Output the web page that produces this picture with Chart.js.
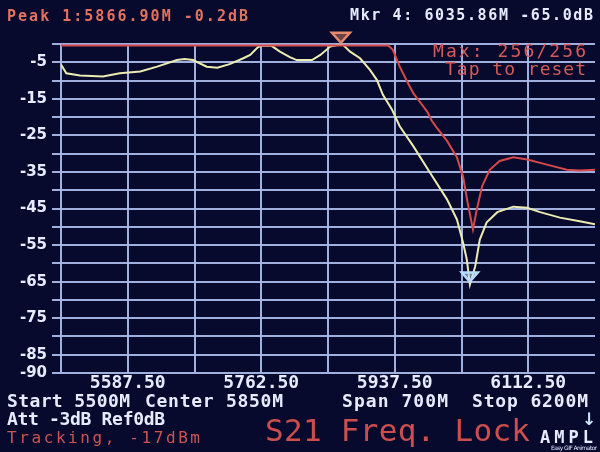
<!DOCTYPE html>
<html>
<head>
<meta charset="utf-8">
<script src="https://cdn.jsdelivr.net/npm/chart.js@4.4.1/dist/chart.umd.min.js"></script>
<style>
  html, body { margin: 0; padding: 0; background: #070a2c; }
  #wrap { position: relative; width: 600px; height: 452px; }
</style>
</head>
<body>
<div id="wrap"><canvas id="sa"></canvas></div>
<script>
// --- sweep settings (from the screen) ---
const freqMin = 5500, freqMax = 6200, freqStep = 87.5;
const dbMin = -90, dbMax = 0, dbStep = 5;

// live S21 trace (yellow), MHz / dB
const liveFreq = [5500, 5507, 5525, 5555, 5577, 5604, 5626, 5652, 5662, 5673, 5691, 5705, 5721, 5739, 5748, 5758, 5762, 5776, 5787, 5800, 5809, 5829, 5840, 5853, 5864, 5870, 5879, 5892, 5905, 5914, 5922, 5934, 5944, 5962, 5984, 6006, 6019, 6027, 6032, 6036, 6043, 6049, 6058, 6072, 6093, 6111, 6128, 6154, 6180, 6200];
const liveDb = [-5.6, -8.0, -8.6, -8.9, -8.0, -7.5, -6.2, -4.4, -4.1, -4.4, -6.2, -6.5, -5.5, -3.9, -3.0, -0.9, -0.5, -0.5, -2.1, -3.6, -4.4, -4.4, -3.0, -0.7, -0.2, -0.3, -2.1, -3.9, -7.1, -9.8, -13.9, -18.0, -22.5, -28.0, -35.3, -42.5, -48.0, -54.3, -59.0, -65.8, -60.8, -53.5, -48.8, -46.0, -44.5, -44.8, -46.0, -47.5, -48.5, -49.3];

// max hold trace (red)
const maxFreq = [5500, 5929, 5935, 5944, 5953, 5962, 5971, 5980, 5986, 5993, 6006, 6019, 6027, 6033, 6040, 6045, 6052, 6062, 6075, 6093, 6111, 6137, 6163, 6180, 6200];
const maxDb = [-0.4, -0.4, -1.6, -6.2, -10.0, -13.5, -16.0, -18.5, -21.0, -23.0, -26.5, -31.0, -36.2, -43.4, -50.7, -45.3, -38.9, -34.4, -32.0, -31.0, -31.6, -33.0, -34.4, -34.6, -34.4];

// markers: peak 1, mkr 4
const markerFreq = [5866.90, 6035.86];
const markerDb = [-0.2, -65.0];

const gridColor = 'rgba(168,184,232,0.95)';
const white = '#e6ecff';
const red = '#d65a58';

function pts(xs, ys) { return xs.map((x, i) => ({ x: x, y: ys[i] })); }

function stepTicks(lo, hi, step) {
  const t = [];
  for (let v = lo; v <= hi + step / 1000; v += step) t.push({ value: Math.round(v * 100) / 100 });
  return t;
}

// text squeezed/spread to the width it has on the screen
function drawFitted(ctx, txt, x, right, y, font, color) {
  ctx.save();
  ctx.font = font;
  ctx.fillStyle = color;
  ctx.textAlign = 'left';
  ctx.textBaseline = 'alphabetic';
  const w = ctx.measureText(txt).width;
  const target = right - x;
  if ('letterSpacing' in ctx && txt.length > 1) {
    ctx.letterSpacing = ((target - w) / (txt.length - 1)) + 'px';
    ctx.fillText(txt, x, y);
  } else {
    ctx.translate(x, y);
    ctx.scale(target / w, 1);
    ctx.fillText(txt, 0, 0);
  }
  ctx.restore();
}

const markers = {
  id: 'markers',
  afterDatasetsDraw(chart) {
    const ctx = chart.ctx, xs = chart.scales.x, ys = chart.scales.y;
    const looks = [
      { stroke: '#e58a6c', fill: 'rgba(229,138,108,0.45)', w: 9, h: 10, lift: 2 },
      { stroke: '#b8dcff', fill: 'rgba(184,220,255,0.55)', w: 8, h: 9, lift: 0 }
    ];
    markerFreq.forEach((f, i) => {
      const cx = xs.getPixelForValue(f);
      const tip = ys.getPixelForValue(markerDb[i]) - looks[i].lift;
      const l = looks[i];
      ctx.save();
      ctx.beginPath();
      ctx.moveTo(cx - l.w, tip - l.h);
      ctx.lineTo(cx + l.w, tip - l.h);
      ctx.lineTo(cx, tip);
      ctx.closePath();
      ctx.fillStyle = l.fill;
      ctx.fill();
      ctx.lineWidth = 2.5;
      ctx.strokeStyle = l.stroke;
      ctx.stroke();
      ctx.restore();
    });
  }
};

const screenText = {
  id: 'screenText',
  afterDraw(chart) {
    const ctx = chart.ctx;
    const mono = (s, b) => (b ? 'bold ' : '') + s + 'px "DejaVu Sans Mono"';
    drawFitted(ctx, 'Peak 1:5866.90M -0.2dB', 7, 248, 21, mono(15, true), '#e2725f');
    drawFitted(ctx, 'Mkr 4: 6035.86M -65.0dB', 350, 593, 20, mono(15, true), white);
    drawFitted(ctx, 'Max: 256/256', 433, 586, 57, mono(18, false), red);
    drawFitted(ctx, 'Tap to reset', 445, 586, 75, mono(18, false), red);
    drawFitted(ctx, 'Start 5500M', 7, 130, 407, mono(18, true), white);
    drawFitted(ctx, 'Center 5850M', 145, 283, 407, mono(18, true), white);
    drawFitted(ctx, 'Span 700M', 342, 448, 407, mono(18, true), white);
    drawFitted(ctx, 'Stop 6200M', 472, 588, 407, mono(18, true), white);
    drawFitted(ctx, 'Att -3dB Ref0dB', 7, 165, 425, mono(18, true), white);
    drawFitted(ctx, 'Tracking, -17dBm', 7, 200, 443, mono(16, false), '#cc5552');
    drawFitted(ctx, 'S21 Freq. Lock', 265, 530, 441, mono(31, false), '#cc4f4e');
    drawFitted(ctx, 'AMPL', 540, 593, 443, mono(17, true), white);
    drawFitted(ctx, 'Easy GIF Animator', 551, 597, 450, '6px "DejaVu Sans"', '#dfe6ff');
    ctx.save();
    ctx.font = 'bold 17px "DejaVu Sans"';
    ctx.fillStyle = '#cfe4ff';
    ctx.textAlign = 'center';
    ctx.fillText('↓', 589, 425);
    ctx.restore();
  }
};

new Chart(document.getElementById('sa'), {
  type: 'line',
  data: {
    datasets: [
      { label: 'Max', data: pts(maxFreq, maxDb), borderColor: '#d6484a', borderWidth: 2, pointRadius: 0, tension: 0 },
      { label: 'S21', data: pts(liveFreq, liveDb), borderColor: '#ecebb2', borderWidth: 2, pointRadius: 0, tension: 0 }
    ]
  },
  options: {
    responsive: true,
    maintainAspectRatio: false,
    animation: false,
    layout: { padding: { top: 44, right: 5, bottom: 0, left: 0 } },
    plugins: { legend: { display: false }, tooltip: { enabled: false } },
    scales: {
      x: {
        type: 'linear', min: freqMin, max: freqMax,
        afterBuildTicks(s) { s.ticks = stepTicks(freqMin, freqMax, freqStep); },
        afterFit(s) { s.height = 79; },
        border: { display: false },
        grid: {
          drawTicks: false, lineWidth: 2,
          color: (c) => (c.tick && c.tick.value >= freqMax - 0.01 ? 'rgba(0,0,0,0)' : gridColor)
        },
        ticks: {
          autoSkip: false, maxRotation: 0, minRotation: 0, padding: 0,
          color: white,
          font: { family: 'DejaVu Sans Mono', size: 18, weight: 'bold' },
          callback: (v, i) => (i % 2 === 1 ? Number(v).toFixed(2) : '')
        }
      },
      y: {
        min: dbMin, max: dbMax,
        afterBuildTicks(s) { s.ticks = stepTicks(dbMin, dbMax, dbStep); },
        ticks: {
          autoSkip: false, padding: 5, color: white,
          font: { family: 'DejaVu Sans', size: 15, weight: 'bold' },
          callback: (v) => (v === dbMin || v % 10 !== 0 ? String(v) : '')
        },
        afterFit(s) { s.width = 61; },
        border: { display: false },
        grid: { drawTicks: true, tickLength: 9, lineWidth: 2, color: gridColor }
      }
    }
  },
  plugins: [markers, screenText]
});
</script>
</body>
</html>
